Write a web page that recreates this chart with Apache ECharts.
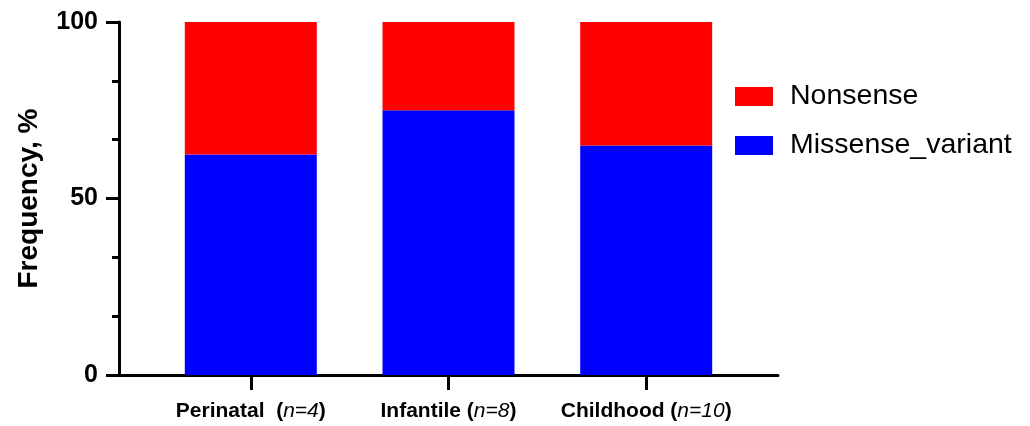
<!DOCTYPE html>
<html><head><meta charset="utf-8">
<script src="https://cdn.jsdelivr.net/npm/echarts@6/dist/echarts.min.js"></script>
<style>html,body{margin:0;padding:0;background:#fff}#c{width:1030px;height:426px}</style>
</head><body><div id="c"></div>
<script>
const categories = ['Perinatal', 'Infantile', 'Childhood'];
const sampleSizes = ['4', '8', '10'];
const missense = [62.5, 75, 65];
const nonsense = [37.5, 25, 35];
const yTicks = [0, 50, 100];

const FONT = '"Liberation Sans", Arial, sans-serif';
const chart = echarts.init(document.getElementById('c'), null, {renderer: 'canvas'});
const idx = categories.map((_, i) => i);
chart.setOption({
  animation: false,
  grid: {left: 119, right: 252, top: 22, bottom: 51, containLabel: false},
  legend: {
    orient: 'vertical', left: 730, top: 77,
    itemWidth: 38, itemHeight: 19, itemGap: 20,
    data: ['Nonsense', 'Missense_variant'],
    textStyle: {fontFamily: FONT, fontSize: 28.5, color: '#000', padding: [0, 0, 0, 12]},
    icon: 'rect'
  },
  xAxis: {
    type: 'value', min: -2/3, max: 2 + 2/3,
    splitLine: {show: false},
    axisLine: {show: true, onZero: false, lineStyle: {color: '#000', width: 3}},
    axisTick: {show: true, customValues: idx, length: 15, lineStyle: {color: '#000', width: 3}},
    axisLabel: {
      customValues: idx, margin: 26,
      formatter: v => {
        const i = Math.round(v);
        const sep = i === 0 ? '  ' : ' ';
        return '{b|' + categories[i] + sep + '(}{i|n=' + sampleSizes[i] + '}{b|)}';
      },
      rich: {
        b: {fontFamily: FONT, fontSize: 21, fontWeight: 'bold', color: '#000'},
        i: {fontFamily: FONT, fontSize: 21, fontStyle: 'italic', color: '#000'}
      }
    }
  },
  yAxis: {
    type: 'value', min: 0, max: 100, interval: 50,
    name: 'Frequency, %', nameLocation: 'middle', nameGap: 76,
    nameTextStyle: {fontFamily: FONT, fontSize: 28, fontWeight: 'bold', color: '#000'},
    splitLine: {show: false},
    axisLine: {show: true, onZero: false, lineStyle: {color: '#000', width: 3}},
    axisTick: {show: true, length: 13, lineStyle: {color: '#000', width: 3}},
    minorTick: {show: true, splitNumber: 3, length: 7, lineStyle: {color: '#000', width: 3}},
    axisLabel: {fontFamily: FONT, fontSize: 25, fontWeight: 'bold', color: '#000', margin: 21,
      formatter: v => yTicks.includes(v) ? String(v) : ''}
  },
  series: [
    {name: 'Missense_variant', type: 'bar', stack: 's', barWidth: 132,
     encode: {x: 1, y: 0},
     itemStyle: {color: '#0000FF'}, data: missense.map((v, i) => [v, i])},
    {name: 'Nonsense', type: 'bar', stack: 's', barWidth: 132,
     encode: {x: 1, y: 0},
     itemStyle: {color: '#FF0000'}, data: nonsense.map((v, i) => [v, i])}
  ]
});
</script></body></html>
